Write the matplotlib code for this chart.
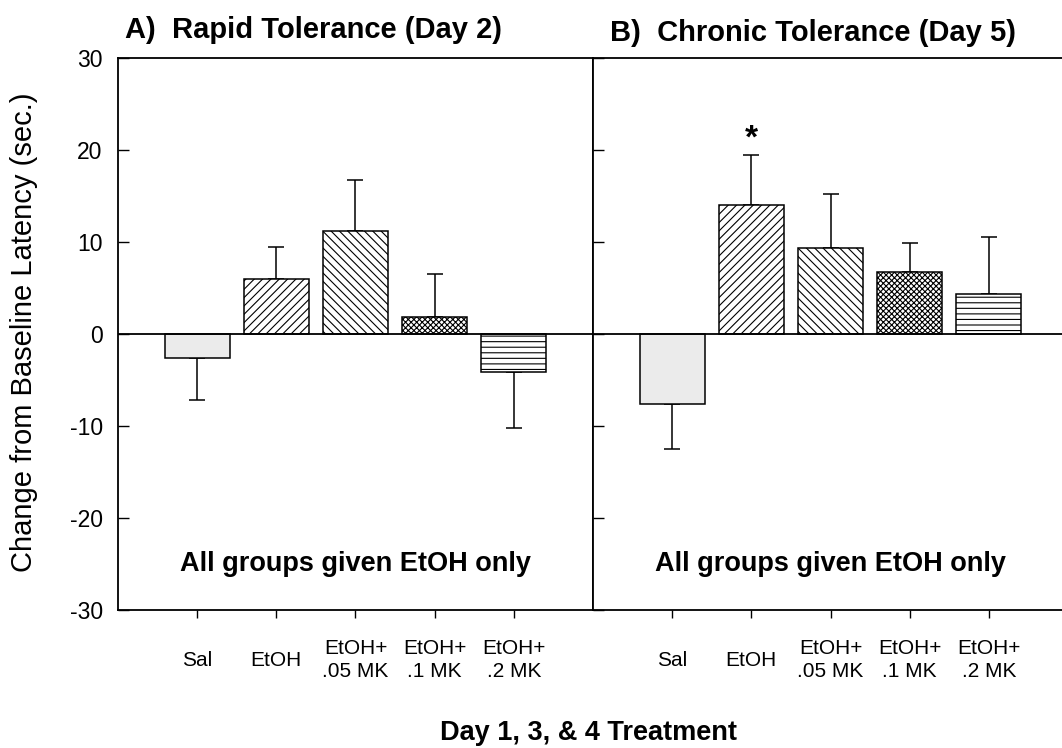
import numpy as np
import matplotlib.pyplot as plt

plt.rcParams['font.family'] = ['Liberation Sans', 'DejaVu Sans']
plt.rcParams['hatch.linewidth'] = 0.8
plt.rcParams['axes.unicode_minus'] = False

groups = ['Sal', 'EtOH', 'EtOH+\n.05 MK', 'EtOH+\n.1 MK', 'EtOH+\n.2 MK']
rapid_mean = [-2.6, 6.0, 11.2, 1.8, -4.1]
rapid_sem = [4.6, 3.5, 5.5, 4.7, 6.1]
chronic_mean = [-7.6, 14.0, 9.3, 6.7, 4.4]
chronic_sem = [4.9, 5.5, 5.9, 3.2, 6.1]

fills = ['#ebebeb', 'white', 'white', 'white', 'white']
hatches = [None, '////', '\\\\\\\\', 'xxxxxx', '---']

W, H = 1062, 748
fig = plt.figure(figsize=(W / 100, H / 100), dpi=100)
ax1 = fig.add_axes([118 / W, 1 - 610 / H, 475 / W, 552 / H])
ax2 = fig.add_axes([593 / W, 1 - 610 / H, 475 / W, 552 / H])

x = np.arange(1, len(groups) + 1)


def draw_panel(ax, mean, sem):
    mean = np.array(mean)
    sem = np.array(sem)
    for xi, m, fc, h in zip(x, mean, fills, hatches):
        ax.bar(xi, m, width=0.82, color=fc, edgecolor='black', hatch=h,
               linewidth=1.1, zorder=2)
    # one-sided error bars pointing away from zero
    lower = np.where(mean < 0, sem, 0)
    upper = np.where(mean >= 0, sem, 0)
    ax.errorbar(x, mean, yerr=[lower, upper], fmt='none', ecolor='black',
                elinewidth=1.1, capsize=6, capthick=1.1, zorder=1)
    ax.axhline(0, color='black', lw=1.3, zorder=3)
    ax.set_xlim(0, 6)
    ax.set_ylim(-30, 30)
    ax.set_xticks(x)
    ax.set_xticklabels(groups, fontsize=15, linespacing=1.3)
    for lab in ax.get_xticklabels():
        lab.set_verticalalignment('center')
    ax.set_yticks(np.arange(-30, 31, 10))
    ax.tick_params(axis='x', direction='out', length=6, width=1, pad=30)
    ax.tick_params(axis='y', direction='in', length=8, width=1, labelsize=16.5, pad=11)
    for s in ax.spines.values():
        s.set_linewidth(1.3)
    ax.text(3, -25, 'All groups given EtOH only', ha='center', va='center',
            fontsize=19.5, fontweight='bold')


draw_panel(ax1, rapid_mean, rapid_sem)
draw_panel(ax2, chronic_mean, chronic_sem)
ax2.tick_params(axis='y', labelleft=False)

# significance marker over the chronic EtOH group
ax2.annotate('*', (x[1], chronic_mean[1] + chronic_sem[1]), xytext=(0, 0),
             textcoords='offset points', ha='center', va='bottom',
             fontsize=24, fontweight='bold')

fig.text(125 / W, 1 - 30 / H, 'A)  Rapid Tolerance (Day 2)', ha='left', va='center',
         fontsize=21, fontweight='bold')
fig.text(610 / W, 1 - 33 / H, 'B)  Chronic Tolerance (Day 5)', ha='left', va='center',
         fontsize=21, fontweight='bold')
fig.text(24 / W, 1 - 332 / H, 'Change from Baseline Latency (sec.)', rotation=90,
         ha='center', va='center', fontsize=21)
fig.text(588 / W, 1 - 733 / H, 'Day 1, 3, & 4 Treatment', ha='center', va='center',
         fontsize=19.5, fontweight='bold')

fig.savefig('out.png', dpi=100)
